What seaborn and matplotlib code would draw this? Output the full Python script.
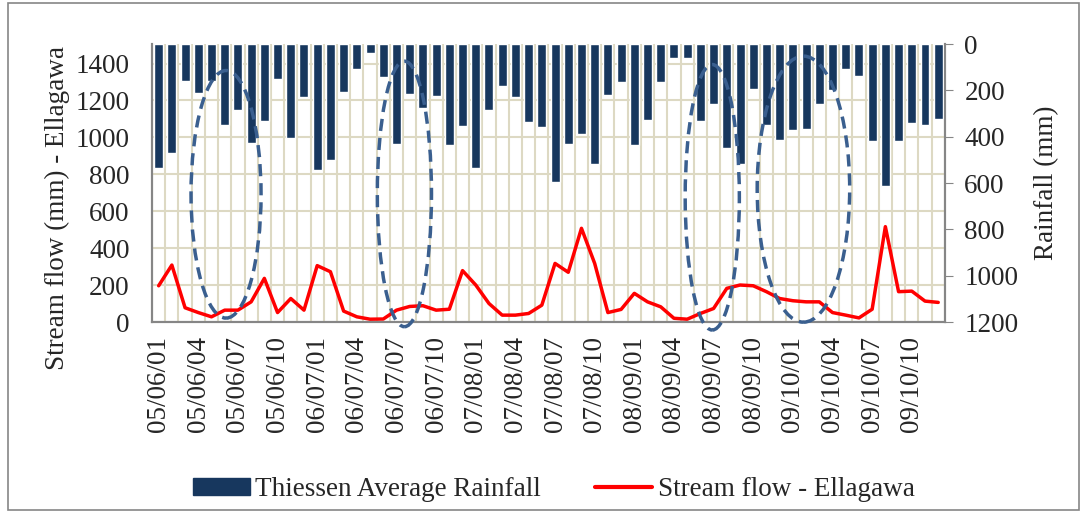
import numpy as np
import pandas as pd
import matplotlib
matplotlib.use("Agg")
import matplotlib.pyplot as plt
import seaborn as sns
from matplotlib.patches import Ellipse, Rectangle
from matplotlib.lines import Line2D
from matplotlib.patches import Patch

# water years and months -> category labels (yy/yy/mm)
water_years = [5, 6, 7, 8, 9]
months = list(range(1, 13))
periods = [f"{y:02d}/{y + 1:02d}/{m:02d}" for y in water_years for m in months]

rainfall = [534, 472, 160, 209, 160, 350, 285, 426, 331, 151, 404, 229,
            544, 499, 207, 109, 40, 140, 432, 217, 275, 223, 436, 353,
            534, 285, 181, 227, 335, 357, 594, 429, 386, 519, 220, 163,
            436, 328, 163, 62, 59, 331, 260, 448, 519, 194, 350, 412,
            370, 367, 259, 196, 109, 138, 416, 613, 416, 342, 350, 325]

# stream flow at Ellagawa (mm), left axis
streamflow = [197, 309, 78, 52, 29, 65, 65, 110, 237, 52, 128, 65,
              306, 273, 60, 29, 16, 17, 65, 85, 89, 65, 70, 279,
              201, 101, 38, 38, 47, 92, 318, 270, 508, 318, 52, 69,
              156, 110, 83, 21, 16, 47, 74, 183, 201, 197, 165, 128,
              116, 110, 110, 52, 38, 23, 70, 517, 165, 168, 114, 107]

# highlighted periods: (centre index, centre flow, width in months, height in flow)
highlights = [(5.1, 692, 5.3, 1340), (18.6, 694, 4.1, 1437),
              (41.9, 676, 4.1, 1437), (48.8, 720, 7.0, 1440)]

df = pd.DataFrame({"idx": np.arange(len(periods)), "period": periods,
                   "rain": rainfall, "flow": streamflow})

sns.set_style("white")
plt.rcParams["font.family"] = ["Liberation Serif", "DejaVu Serif"]
plt.rcParams["font.size"] = 19.5

grid_col = "#DDD9C3"
axis_col = "#868686"

fig = plt.figure(figsize=(10.86, 5.13), dpi=100)
ax = fig.add_axes([0.140, 0.372, 0.730, 0.542])
ax2 = ax.twinx()

sns.lineplot(data=df, x="idx", y="flow", ax=ax, color="#FF0000", linewidth=2.5)
sns.barplot(data=df, x="idx", y="rain", ax=ax2, color="#17375E", width=0.68,
            saturation=1)

# left axis: stream flow
ax.set_ylim(0, 1505)
ax.set_yticks(np.arange(0, 1401, 200))
ax.set_xlim(-0.5, len(periods) - 0.5)
ax.set_xticks(np.arange(0, len(periods), 3))
ax.set_xticklabels(periods[::3], rotation=90)
ax.set_xticks(np.arange(-0.5, len(periods), 1), minor=True)
ax.grid(axis="y", which="major", color=grid_col, linewidth=1.5)
ax.grid(axis="x", which="minor", color=grid_col, linewidth=1.5)
ax.grid(axis="x", which="major", visible=False)
ax.tick_params(axis="x", which="both", length=0, pad=10)
ax.tick_params(axis="y", length=0, pad=16)
ax.set_xlabel("")
ax.set_ylabel("Stream flow (mm) - Ellagawa")
ax.yaxis.set_label_coords(-0.103, 0.41)

# right axis: rainfall, reversed
ax2.set_ylim(1200, 0)
ax2.set_yticks(np.arange(0, 1201, 200))
ax2.tick_params(axis="y", direction="out", length=6, color=axis_col, pad=8)
ax2.set_ylabel("Rainfall (mm)")
ax2.yaxis.set_label_coords(1.113, 0.5)
ax2.set_xlabel("")
ax2.grid(False)

for a in (ax, ax2):
    a.spines["top"].set_visible(False)
    for s in ("left", "right", "bottom"):
        a.spines[s].set_color(axis_col)
        a.spines[s].set_linewidth(1.5)

for cx, cy, w, h in highlights:
    ax2.add_patch(Ellipse((cx, cy), w, h, transform=ax.transData, fill=False,
                          edgecolor="#3A5F8F", linewidth=2.5, linestyle=(0, (3.5, 2)),
                          clip_on=False, zorder=5))

# chart border
fig.patches.append(Rectangle((0.007, 0.006), 0.987, 0.988, transform=fig.transFigure,
                             fill=False, edgecolor=axis_col, linewidth=1.2))

handles = [Patch(facecolor="#17375E", edgecolor="#17375E"),
           Line2D([0], [0], color="#FF0000", linewidth=3)]
fig.legend(handles, ["Thiessen Average Rainfall", "Stream flow - Ellagawa"],
           loc="center", bbox_to_anchor=(0.51, 0.045), ncol=2, frameon=False,
           handlelength=2.1, handleheight=0.6, handletextpad=0.2,
           columnspacing=2.0, fontsize=19.5)

fig.savefig("out.png", dpi=100)
